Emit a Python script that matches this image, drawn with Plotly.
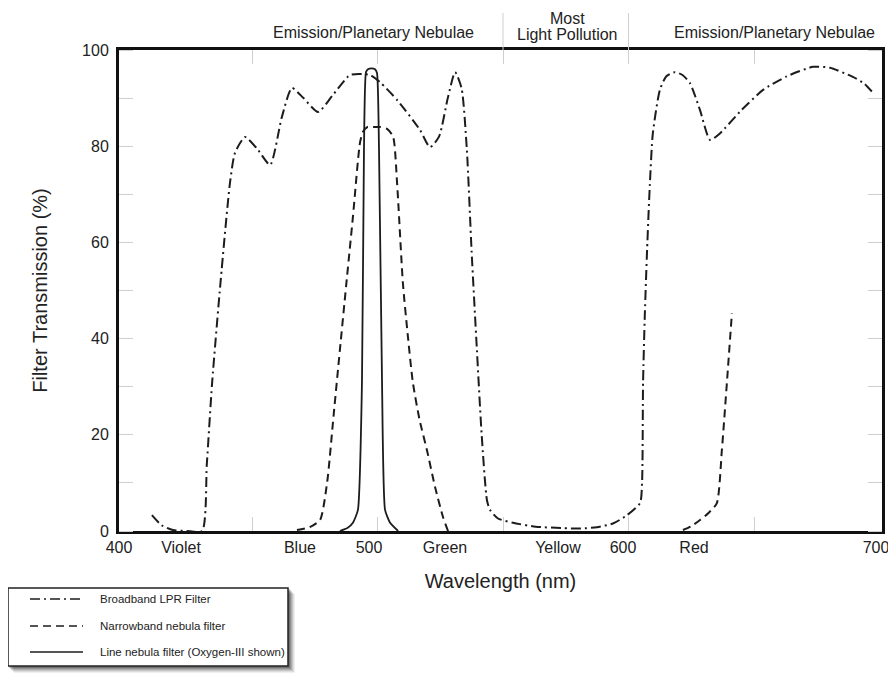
import plotly.graph_objects as go

# ---------------- data ----------------
broadband_nm = [410.1, 414.0, 418.5, 424.0, 430.1, 432.0, 434.1, 437.5, 441.2, 443.2, 447.2,
                452.0, 457.2, 461.9, 465.9, 470.5, 476.3, 482.0, 489.0, 493.0, 497.0, 501.0,
                508.0, 516.9, 520.9, 524.5, 528.0, 530.9, 533.5, 535.6, 537.5, 539.6, 541.5,
                543.6, 544.8, 548.0, 554.0, 563.0, 573.9, 581.0, 587.4, 594.0, 599.4, 604.6,
                605.4, 605.8, 606.5, 607.4, 608.5, 609.7, 612.5, 615.0, 618.5, 621.5, 624.5,
                628.5, 632.5, 636.5, 645.0, 653.6, 663.0, 673.5, 680.3, 689.4, 694.0, 697.4]
broadband_pct = [3.3, 1.2, 0.2, 0.0, 0.0, 14.0, 30.8, 52.0, 72.3, 78.6, 81.9,
                 79.5, 76.1, 86.1, 92.1, 90.0, 87.1, 90.5, 94.8, 95.0, 94.8, 93.3,
                 89.5, 83.4, 79.8, 82.0, 90.0, 95.4, 92.0, 79.2, 58.0, 37.6, 20.0,
                 6.4, 4.4, 2.6, 1.7, 0.9, 0.6, 0.5, 0.8, 1.6, 3.3, 5.8,
                 10.0, 30.8, 45.0, 58.4, 72.0, 82.7, 91.7, 94.5, 95.4, 94.8, 93.1,
                 87.5, 81.3, 82.7, 87.5, 91.7, 94.5, 96.5, 96.3, 94.4, 93.0, 91.1]

narrowband_nm = [467.9, 473.0, 477.1, 479.9, 482.5, 485.0, 487.5, 490.2, 493.0, 494.2, 496.0,
                 498.2, 501.0, 503.8, 506.2, 507.8, 510.1, 512.0, 514.1, 516.8, 519.7, 523.0,
                 526.1, 528.1,
                 None,
                 621.7, 625.0, 628.5, 632.0, 635.2, 637.2, 639.2, 641.2]
narrowband_pct = [0.2, 0.8, 2.3, 10.0, 24.0, 37.6, 51.0, 65.3, 80.7, 83.0, 84.0,
                  84.0, 84.0, 83.6, 82.0, 72.3, 51.6, 41.0, 30.8, 23.0, 16.8, 9.0,
                  2.9, 0.0,
                  None,
                  0.2, 1.0, 2.3, 3.8, 5.8, 16.8, 30.8, 45.3]

oiii_nm = [485.0, 488.0, 490.2, 492.2, 493.8, 494.6, 495.4, 496.2, 497.6, 499.0, 499.8,
           500.6, 501.8, 503.0, 505.0, 508.2]
oiii_pct = [0.0, 0.6, 1.7, 4.4, 30.8, 79.0, 95.4, 96.0, 96.2, 96.0, 95.2,
            79.2, 30.8, 4.4, 1.7, 0.0]

x_tick_pos = [397.0, 421.7, 469.1, 496.6, 526.9, 571.9, 597.8, 626.1, 698.6]
x_tick_text = ["400", "Violet", "Blue", "500", "Green", "Yellow", "600", "Red", "700"]
x_minor_ticks = [450, 500, 550, 600, 650]
y_tick_vals = [0, 20, 40, 60, 80, 100]
header_dividers = [550, 600]

series_names = ["Broadband LPR Filter", "Narrowband nebula filter",
                "Line nebula filter (Oxygen-III shown)"]

# ---------------- layout helpers ----------------
# the page body adds an 8px margin, so the figure is 8px smaller and
# margins are reduced accordingly; helpers take window pixel positions.
PAGE = 8
W, H = 896 - PAGE, 682 - PAGE
ML, MR, MT, MB = 119 - PAGE, 14, 50 - PAGE, 151
PW, PH = W - ML - MR, H - MT - MB
FONT = "Liberation Sans, Arial, Helvetica, sans-serif"
INK = "#1c1c1c"
DASHDOT = "10px,4px,2px,4px"
DASH = "8px,5px"


def fx(px):
    return (px - PAGE - ML) / PW


def fy(py):
    return (PAGE + MT + PH - py) / PH


fig = go.Figure()
fig.add_trace(go.Scatter(x=broadband_nm, y=broadband_pct, mode="lines", name=series_names[0],
                         line=dict(color=INK, width=2, dash=DASHDOT, shape="spline", smoothing=0.6)))
fig.add_trace(go.Scatter(x=narrowband_nm, y=narrowband_pct, mode="lines", name=series_names[1],
                         connectgaps=False,
                         line=dict(color=INK, width=2, dash=DASH, shape="spline", smoothing=0.6)))
fig.add_trace(go.Scatter(x=oiii_nm, y=oiii_pct, mode="lines", name=series_names[2],
                         line=dict(color=INK, width=1.8, shape="spline", smoothing=0.5)))

shapes = []
# header dividers
for d in header_dividers:
    shapes.append(dict(type="line", xref="x", yref="paper", x0=d, x1=d,
                       y0=fy(50), y1=fy(13), line=dict(color="#cfcfcf", width=1)))

# legend box with soft shadow
lx0, lx1, ly0, ly1 = 8, 288, 588, 666
for off, op in [(7, 0.06), (6, 0.08), (5, 0.10), (4, 0.13), (3, 0.16), (2, 0.2)]:
    shapes.append(dict(type="rect", xref="paper", yref="paper",
                       x0=fx(lx0 + off - 1), x1=fx(lx1 + off), y0=fy(ly1 + off), y1=fy(ly0 + off - 1),
                       fillcolor="rgba(0,0,0,%s)" % op, line=dict(width=0), layer="above"))
shapes.append(dict(type="rect", xref="paper", yref="paper",
                   x0=fx(lx0), x1=fx(lx1), y0=fy(ly1), y1=fy(ly0),
                   fillcolor="white", line=dict(color="#222", width=1.5), layer="above"))

row_y = [599, 626, 652]
dashes = [DASHDOT, DASH, "solid"]
annotations = []
for name, ry, ds in zip(series_names, row_y, dashes):
    shapes.append(dict(type="line", xref="paper", yref="paper",
                       x0=fx(30), x1=fx(83), y0=fy(ry), y1=fy(ry),
                       line=dict(color=INK, width=1.6, dash=ds), layer="above"))
    annotations.append(dict(xref="paper", yref="paper", x=fx(98), y=fy(ry), text=name,
                            showarrow=False, xanchor="left", yanchor="middle",
                            font=dict(family=FONT, size=11.5, color="#222")))

# header labels
hfont = dict(family=FONT, size=16, color="#222")
annotations += [
    dict(xref="paper", yref="paper", x=fx(373), y=fy(32), text="Emission/Planetary Nebulae",
         showarrow=False, xanchor="center", yanchor="middle", font=hfont),
    dict(xref="paper", yref="paper", x=fx(567), y=fy(18), text="Most",
         showarrow=False, xanchor="center", yanchor="middle", font=hfont),
    dict(xref="paper", yref="paper", x=fx(567), y=fy(35), text="Light Pollution",
         showarrow=False, xanchor="center", yanchor="middle", font=hfont),
    dict(xref="paper", yref="paper", x=fx(774), y=fy(32), text="Emission/Planetary Nebulae",
         showarrow=False, xanchor="center", yanchor="middle", font=hfont),
]

fig.update_layout(
    width=W, height=H,
    margin=dict(l=ML, r=MR, t=MT, b=MB, pad=0, autoexpand=False),
    paper_bgcolor="white", plot_bgcolor="white",
    showlegend=False,
    font=dict(family=FONT, size=16, color="#222"),
    shapes=shapes, annotations=annotations,
    xaxis=dict(range=[397, 701], tickmode="array", tickvals=x_tick_pos, ticktext=x_tick_text,
               ticks="", showgrid=False, zeroline=False, automargin=False,
               showline=True, linecolor="#111", linewidth=3, mirror="allticks",
               ticklabelstandoff=0,
               tickfont=dict(family=FONT, size=16, color="#222"),
               minor=dict(tickmode="array", tickvals=x_minor_ticks, ticks="inside",
                          ticklen=14, tickwidth=1, tickcolor="#cfcfcf", showgrid=False),
               title=dict(text="Wavelength (nm)", standoff=19,
                          font=dict(family=FONT, size=20, color="#222"))),
    yaxis=dict(range=[0, 100], tickmode="array", tickvals=y_tick_vals,
               ticks="", showgrid=False, zeroline=False, automargin=False,
               showline=True, linecolor="#111", linewidth=3, mirror="allticks",
               ticklabelstandoff=4,
               tickfont=dict(family=FONT, size=16, color="#222"),
               minor=dict(dtick=10, tick0=0, ticks="inside",
                          ticklen=14, tickwidth=1, tickcolor="#cfcfcf", showgrid=False),
               title=dict(text="Filter Transmission (%)", standoff=30,
                          font=dict(family=FONT, size=20, color="#222"))),
)

fig.write_html("out.html")
